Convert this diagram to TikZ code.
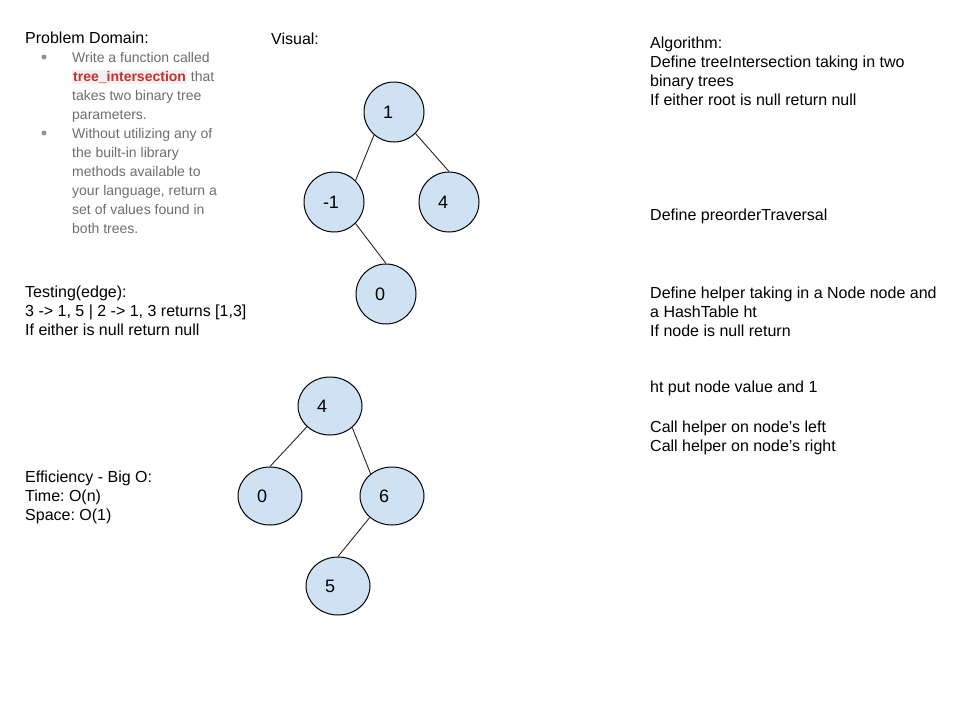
\documentclass[tikz,border=0pt]{standalone}
\usepackage{fontspec}
\setmainfont{Liberation Sans}
\usetikzlibrary{shapes.geometric}
\definecolor{nodefill}{HTML}{CFE2F3}
\definecolor{bulletgray}{HTML}{6E6E6E}
\definecolor{codered}{HTML}{C9302C}
\definecolor{codebg}{HTML}{F1F1F1}
\frenchspacing
\begin{document}
\begin{tikzpicture}[x=1pt,y=-1pt,
  txt/.style={anchor=base west, inner sep=0pt, align=left, font=\fontsize{16}{19}\selectfont},
  btxt/.style={anchor=base west, inner sep=0pt, align=left, font=\fontsize{14}{19}\selectfont, text=bulletgray},
  bdot/.style={circle, fill=bulletgray!75, inner sep=0pt, minimum size=5pt},
  tnode/.style={ellipse, draw=black, line width=1pt, fill=nodefill, minimum width=60pt, minimum height=60pt, inner sep=0pt, font=\fontsize{18}{20}\selectfont},
  tnodeb/.style={tnode, minimum width=64pt, minimum height=58pt},
  tedge/.style={draw=black!85, line width=0.9pt}]
\fill[white] (0,0) rectangle (960,720);
\useasboundingbox (0,0) rectangle (960,720);

% left column (multi-line nodes: base = baseline of last line)
\node[txt] (pd) at (25,43.5) {Problem Domain:};
\node[bdot] (d1) at (44,57) {};
\node[bdot] (d2) at (44,133) {};
\node[btxt] (bl) at (72,233) {Write a function called\\
{\fboxsep=1pt\colorbox{codebg}{\bfseries\color{codered}tree\_intersection}} that\\
takes two binary tree\\
parameters.\\
Without utilizing any of\\
the built-in library\\
methods available to\\
your language, return a\\
set of values found in\\
both trees.};
\node[txt] (test) at (25,335.5) {Testing(edge):\\
3 -> 1, 5 | 2 -> 1, 3 returns [1,3]\\
If either is null return null};
\node[txt] (eff) at (25,520.5) {Efficiency - Big O:\\
Time: O(n)\\
Space: O(1)};

% middle
\node[txt] (vis) at (271,44.5) {Visual:};

\node[tnode] (a1)  at (394,112) {\makebox[22pt][l]{1}};
\node[tnode] (am1) at (334,202) {\makebox[22pt][l]{-1}};
\node[tnode] (a4)  at (449,202) {\makebox[22pt][l]{4}};
\node[tnode] (a0)  at (386,294) {\makebox[22pt][l]{0}};
\draw[tedge] (a1.229) -- (am1.45);
\draw[tedge] (a1.315) -- (a4.90);
\draw[tedge] (am1.315) -- (a0.90);

\node[tnodeb] (b4) at (330,406) {\makebox[26pt][l]{4}};
\node[tnodeb] (b0) at (270,496) {\makebox[26pt][l]{0}};
\node[tnodeb] (b6) at (392,496) {\makebox[26pt][l]{6}};
\node[tnodeb] (b5) at (338,586) {\makebox[26pt][l]{5}};
\draw[tedge] (b4.222) -- (b0.90);
\draw[tedge] (b4.316) -- (b6.134);
\draw[tedge] (b6.224) -- (b5.90);

% right column
\node[txt] (alg) at (650,105) {Algorithm:\\
Define treeIntersection taking in two\\
binary trees\\
If either root is null return null};
\node[txt] (pre) at (650,220.5) {Define preorderTraversal};
\node[txt] (help) at (650,336) {Define helper taking in a Node node and\\
a HashTable ht\\
If node is null return};
\node[txt] (put) at (650,392.5) {ht put node value and 1};
\node[txt] (call) at (650,451) {Call helper on node’s left\\
Call helper on node’s right};
\end{tikzpicture}
\end{document}
